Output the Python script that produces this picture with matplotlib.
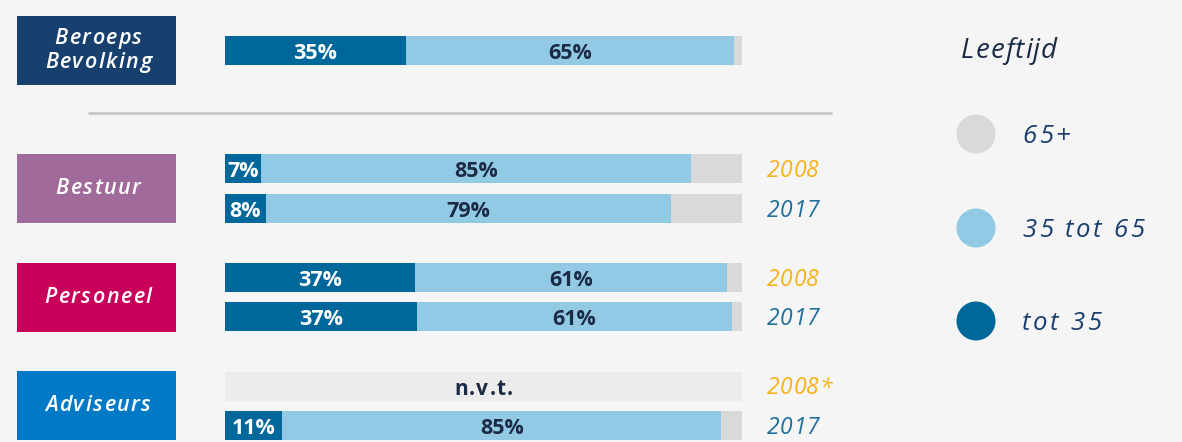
import matplotlib
matplotlib.use("Agg")
import matplotlib.pyplot as plt
import matplotlib.patches as patches
from matplotlib import font_manager
from matplotlib.font_manager import FontProperties
from matplotlib.ft2font import FT2Font
import numpy as np

# --- data -------------------------------------------------------------
groups = ['Beroeps\nBevolking', 'Bestuur', 'Personeel', 'Adviseurs']
group_colors = ['#17406f', '#a06a9a', '#c8005a', '#007ac6']

row_years = ['', '2008', '2017', '2008', '2017', '2008*', '2017']
# bar widths (share of full bar, %)
young = [35.0, 7.0, 7.9, 36.8, 37.1, np.nan, 11.1]
middle = [63.5, 83.2, 78.4, 60.3, 61.0, np.nan, 84.9]
old = [1.5, 9.8, 13.7, 2.9, 1.9, np.nan, 4.0]
# printed labels
young_lbl = [35, 7, 8, 37, 37, None, 11]
middle_lbl = [65, 85, 79, 61, 61, None, 85]

legend_labels = ['65+', '35 tot 65', 'tot 35']

# --- style ------------------------------------------------------------
bg = '#f5f5f5'
c_young, c_mid, c_old, c_na = '#00679a', '#92cae6', '#d9d9d9', '#ececec'
navy = '#1c2b45'
legend_txt = '#1a3f6f'
year_col = {'2008': '#f5b21a', '2008*': '#f5b21a', '2017': '#1f6e9c'}
fam = ['Open Sans', 'DejaVu Sans']
DPI = 100


def spaced_text(ax, x, y, s, size, track, ha='left', weight='normal',
                style='normal', **kw):
    # draw text char by char with extra letter spacing (in pixels)
    fp = FontProperties(family=fam, size=size, weight=weight, style=style)
    font = FT2Font(font_manager.findfont(fp))
    font.set_size(size, DPI)
    adv = [font.load_char(ord(c)).linearHoriAdvance / 65536 for c in s]
    total = sum(adv) + track * (len(s) - 1)
    cx = x - total / 2 if ha == 'center' else x
    for c, a in zip(s, adv):
        if c != ' ':
            ax.text(cx, y, c, ha='left', va='baseline', fontproperties=fp, **kw)
        cx += a + track


W, H = 1182, 442
fig = plt.figure(figsize=(W / DPI, H / DPI), dpi=DPI, facecolor=bg)

# bar axes: x = percent, y = pixel rows
x0, x1 = 225, 742
ax = fig.add_axes([x0 / W, 0, (x1 - x0) / W, 1])
ax.set_xlim(0, 100)
ax.set_ylim(H, 0)
ax.axis('off')
ax.patch.set_alpha(0)
ax.set_zorder(1)

# overlay axes in pixel units for boxes, legend, separators, labels
axb = fig.add_axes([0, 0, 1, 1])
axb.set_xlim(0, W)
axb.set_ylim(H, 0)
axb.axis('off')
axb.patch.set_visible(False)
axb.set_zorder(2)

row_y = [50.5, 168.5, 208.5, 277.5, 316.5, 386, 425.5]
bar_h = 29
lbl_kw = dict(ha='center', va='baseline', fontsize=15.5, fontweight='bold', family=fam)

for i, y in enumerate(row_y):
    if np.isnan(young[i]):
        ax.barh(y, 100, height=bar_h, color=c_na, linewidth=0)
        spaced_text(axb, (x0 + x1) / 2, y + 9, 'n.v.t.', 15, 1.2, ha='center',
                    weight='bold', color=navy)
    else:
        ax.barh(y, young[i], height=bar_h, color=c_young, linewidth=0)
        ax.barh(y, middle[i], left=young[i], height=bar_h, color=c_mid, linewidth=0)
        ax.barh(y, old[i], left=young[i] + middle[i], height=bar_h, color=c_old, linewidth=0)
        ax.text(young[i] / 2, y + 8.5, f'{young_lbl[i]}%', color='white', **lbl_kw)
        ax.text(young[i] + middle[i] / 2, y + 8.5, f'{middle_lbl[i]}%', color=navy, **lbl_kw)
    if row_years[i]:
        spaced_text(axb, 767, y + 8.3, row_years[i], 16.5, 0.5, style='italic',
                    color=year_col[row_years[i]])

# group boxes
box_y = [(16, 85), (154, 223), (263, 332), (371, 440)]
for g, col, (t, b) in zip(groups, group_colors, box_y):
    axb.add_patch(patches.Rectangle((17, t), 159, b - t, facecolor=col, edgecolor='none'))
    lines = g.split('\n')
    base = (t + b) / 2 + 5.5 - 12 * (len(lines) - 1)
    for k, line in enumerate(lines):
        spaced_text(axb, 98, base + 24 * k, line, 15.5, 1.5, ha='center',
                    weight='semibold', style='italic', color='white')

# separator
axb.plot([88, 832], [113, 113], color='#c8c8c8', linewidth=2, solid_capstyle='butt')

# legend
spaced_text(axb, 961, 58.3, 'Leeftijd', 20, 1.0, style='italic', color=navy)
for lbl, col, y in zip(legend_labels, [c_old, c_mid, c_young], [134, 228, 321]):
    axb.add_patch(patches.Circle((976, y), 19.5, facecolor=col, edgecolor='none'))
    spaced_text(axb, 1022, y + 9.3, lbl, 18.5, 2.6, style='italic', color=legend_txt)

fig.savefig('out.png', dpi=DPI, facecolor=bg)
